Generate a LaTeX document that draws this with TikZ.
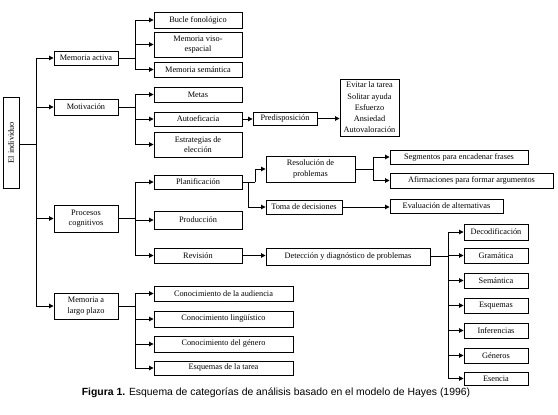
\documentclass[tikz,border=0pt]{standalone}
\usepackage{fontspec}
\usepackage{graphicx}
\setmainfont{Liberation Serif}
\newfontfamily\capfont{Liberation Sans}
\usetikzlibrary{arrows.meta}
\tikzset{
  box/.style={draw, line width=0.9pt, inner sep=0pt, align=center, font=\fontsize{8.3}{10.5}\selectfont},
  con/.style={line width=0.9pt},
  arr/.style={line width=0.9pt, -{Triangle[length=4.5pt,width=4.5pt]}},
}
\begin{document}
\begin{tikzpicture}[x=1pt,y=-1pt]
\useasboundingbox (0,0) rectangle (558,415);
% root
\node[box, minimum width=16pt, minimum height=91pt] (ind) at (11,142.5) {\rotatebox{90}{El individuo}};
% level 1
\node[box, minimum width=64pt, minimum height=14pt] (mact) at (86,58) {Memoria activa};
\node[box, minimum width=64pt, minimum height=16pt] (motiv) at (86,107) {Motivación};
\node[box, minimum width=64pt, minimum height=27pt] (proc) at (86,218.5) {Procesos\\cognitivos};
\node[box, minimum width=64pt, minimum height=26pt] (mlp) at (86,306) {Memoria a\\largo plazo};
% memoria activa children
\node[box, minimum width=88pt, minimum height=16pt] (bucle) at (198,20) {Bucle fonológico};
\node[box, minimum width=88pt, minimum height=25pt] (viso) at (198,44.5) {Memoria viso-\\espacial};
\node[box, minimum width=88pt, minimum height=15pt] (msem) at (198,69.5) {Memoria semántica};
% motivacion children
\node[box, minimum width=88pt, minimum height=15pt] (metas) at (198,94.5) {Metas};
\node[box, minimum width=88pt, minimum height=14pt] (autoef) at (198,119) {Autoeficacia};
\node[box, minimum width=88pt, minimum height=25pt] (estrat) at (198,144.5) {Estrategias de\\elección};
\node[box, minimum width=64pt, minimum height=13pt] (predis) at (285,118.5) {Predisposición};
\node[box, minimum width=59pt, minimum height=57pt, font=\fontsize{8.3}{11.3}\selectfont] (evitar) at (369.5,107.5) {Evitar la tarea\\Solitar ayuda\\Esfuerzo\\Ansiedad\\Autovaloración};
% procesos children
\node[box, minimum width=88pt, minimum height=14pt] (plan) at (198,182) {Planificación};
\node[box, minimum width=88pt, minimum height=18pt] (prod) at (198,220) {Producción};
\node[box, minimum width=88pt, minimum height=15pt] (rev) at (198,255.5) {Revisión};
\node[box, minimum width=89pt, minimum height=26pt] (resol) at (310.5,169) {Resolución de\\problemas};
\node[box, minimum width=76pt, minimum height=14pt] (toma) at (304,207) {Toma de decisiones};
\node[box, minimum width=113pt, minimum height=14pt] (evalu) at (446.5,206) {Evaluación de alternativas};
\node[box, minimum width=138pt, minimum height=14pt] (segm) at (459,157) {Segmentos para encadenar frases};
\node[box, minimum width=163pt, minimum height=15pt] (afirm) at (471.5,180.5) {Afirmaciones para formar argumentos};
\node[box, minimum width=164pt, minimum height=17pt] (detec) at (348,256.5) {Detección y diagnóstico de problemas};
\node[box, minimum width=64pt, minimum height=16pt] (decod) at (496,232) {Decodificación};
\node[box, minimum width=64pt, minimum height=15pt] (gram) at (496,255.5) {Gramática};
\node[box, minimum width=64pt, minimum height=15pt] (seman) at (496,280.5) {Semántica};
\node[box, minimum width=64pt, minimum height=15pt] (esq) at (496,305.5) {Esquemas};
\node[box, minimum width=64pt, minimum height=15pt] (infer) at (496,330.5) {Inferencias};
\node[box, minimum width=64pt, minimum height=15pt] (gener) at (496,355.5) {Géneros};
\node[box, minimum width=64pt, minimum height=13pt] (esenc) at (496,378.5) {Esencia};
% memoria a largo plazo children
\node[box, minimum width=139pt, minimum height=15pt] (caud) at (223.5,293.5) {Conocimiento de la audiencia};
\node[box, minimum width=139pt, minimum height=16pt] (cling) at (223.5,319) {Conocimiento lingüístico};
\node[box, minimum width=139pt, minimum height=16pt] (cgen) at (223.5,344) {Conocimiento del género};
\node[box, minimum width=139pt, minimum height=14pt] (cesq) at (223.5,368) {Esquemas de la tarea};
% junctions
\coordinate (jM) at (36,144);
\coordinate (jA) at (135,58);
\coordinate (jB) at (135,107);
\coordinate (jC) at (135,218.5);
\coordinate (jE) at (135,306);
\coordinate (jP1) at (255,182);
\coordinate (jP2) at (248,182);
\coordinate (jR) at (373,169);
\coordinate (jD) at (448,256.5);
% trunk
\draw[con] (ind.east |- jM) -- (jM);
\draw[arr] (jM) |- (mact);
\draw[arr] (jM) |- (motiv);
\draw[arr] (jM) |- (proc);
\draw[arr] (jM) |- (mlp);
% memoria activa
\draw[con] (mact.east) -- (jA);
\draw[arr] (jA) |- (bucle);
\draw[arr] (jA) |- (viso);
\draw[arr] (jA) |- (msem);
% motivacion
\draw[con] (motiv.east) -- (jB);
\draw[arr] (jB) |- (metas);
\draw[arr] (jB) |- (autoef);
\draw[arr] (jB) |- (estrat);
\draw[arr] (autoef.east) -- (autoef.east -| predis.west);
\draw[arr] (predis.east) -- (predis.east -| evitar.west);
% procesos
\draw[con] (proc.east) -- (jC);
\draw[arr] (jC) |- (plan);
\draw[arr] (jC) |- (prod);
\draw[arr] (jC) |- (rev);
\draw[con] (plan.east) -- (jP1);
\draw[arr] (jP1) |- (resol);
\draw[arr] (jP2) |- (toma);
\draw[con] (resol.east) -- (jR);
\draw[arr] (jR) |- (segm);
\draw[arr] (jR) |- (afirm);
\draw[arr] (toma.east) -- (toma.east -| evalu.west);
\draw[arr] (rev.east) -- (rev.east -| detec.west);
\draw[con] (detec.east) -- (jD);
\draw[arr] (jD) |- (decod);
\draw[arr] (jD) |- (gram);
\draw[arr] (jD) |- (seman);
\draw[arr] (jD) |- (esq);
\draw[arr] (jD) |- (infer);
\draw[arr] (jD) |- (gener);
\draw[arr] (jD) |- (esenc);
% memoria a largo plazo
\draw[con] (mlp.east) -- (jE);
\draw[arr] (jE) |- (caud);
\draw[arr] (jE) |- (cling);
\draw[arr] (jE) |- (cgen);
\draw[arr] (jE) |- (cesq);
% caption
\node[inner sep=0pt, font=\capfont\fontsize{10.4}{12}\selectfont] (cap) at (276,393) {\textbf{Figura 1.} Esquema de categorías de análisis basado en el modelo de Hayes (1996)};
\end{tikzpicture}
\end{document}
